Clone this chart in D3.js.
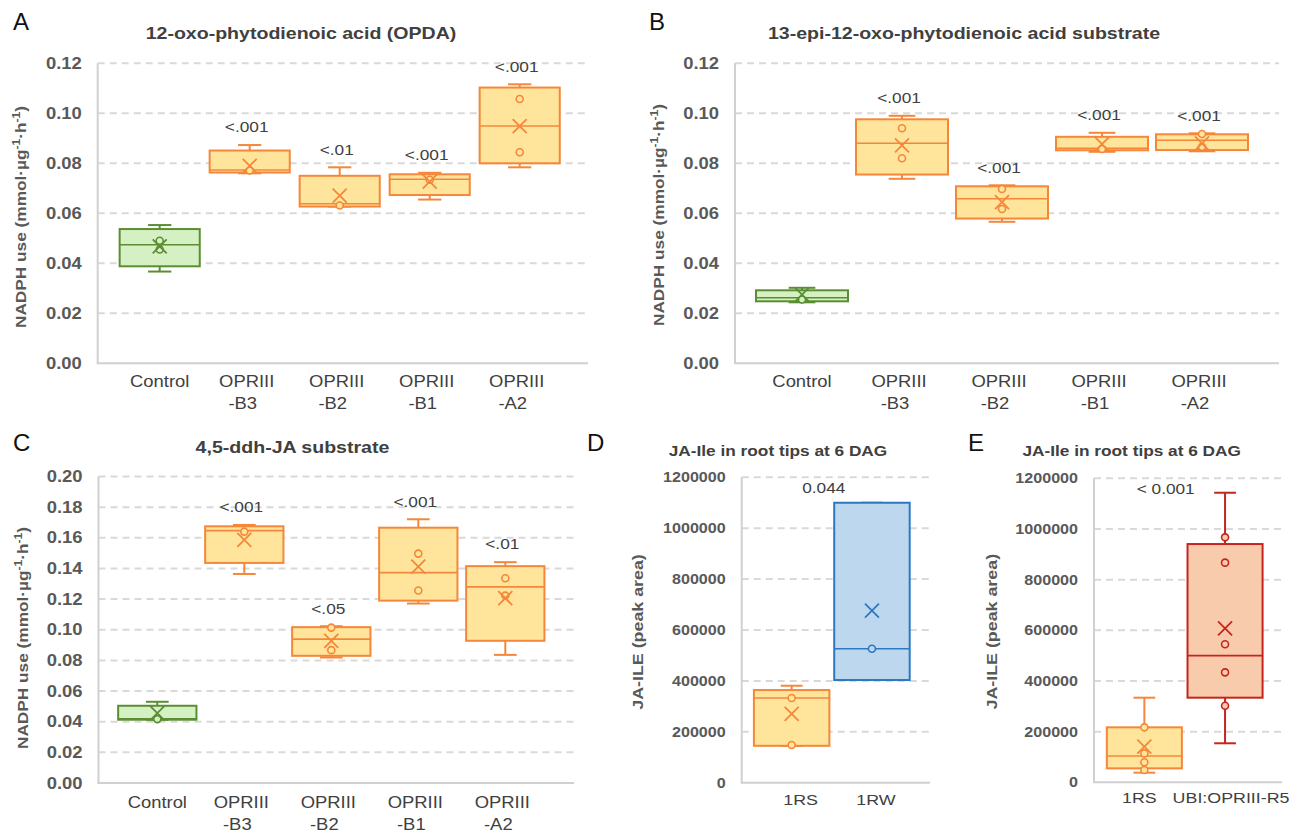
<!DOCTYPE html>
<html>
<head>
<meta charset="utf-8">
<script src="https://cdn.jsdelivr.net/npm/d3@7"></script>
<style>
  body { margin: 0; background: #fff; }
  text { font-family: "Liberation Sans", Arial, sans-serif; }
</style>
</head>
<body>
<svg id="fig" width="1300" height="831"></svg>
<script>
// categories / tick labels
const catsABC = ["Control", "OPRIII-B3", "OPRIII-B2", "OPRIII-B1", "OPRIII-A2"];
const labelsABC = [["Control"], ["OPRIII", "-B3"], ["OPRIII", "-B2"], ["OPRIII", "-B1"], ["OPRIII", "-A2"]];
const colorsABC = ["green", "orange", "orange", "orange", "orange"];

// A: 12-oxo-phytodienoic acid (OPDA)
const aLow  = [0.0367, 0.0760, 0.0627, 0.0655, 0.0784];
const aQ1   = [0.0388, 0.0763, 0.0627, 0.0673, 0.0800];
const aMed  = [0.0474, 0.0773, 0.0638, 0.0736, 0.0949];
const aQ3   = [0.0537, 0.0851, 0.0750, 0.0756, 0.1103];
const aHigh = [0.0553, 0.0873, 0.0784, 0.0762, 0.1116];
const aMean = [0.0468, 0.0790, 0.0671, 0.0727, 0.0949];
const aPts  = [[0.0490, 0.0455], [0.0771], [0.0631], [0.0734], [0.1057, 0.0844]];
const aP    = ["", "<.001", "<.01", "<.001", "<.001"];

// B: 13-epi-12-oxo-phytodienoic acid substrate
const bLow  = [0.0244, 0.0738, 0.0566, 0.0846, 0.0848];
const bQ1   = [0.0248, 0.0755, 0.0579, 0.0852, 0.0853];
const bMed  = [0.0262, 0.0880, 0.0658, 0.0860, 0.0892];
const bQ3   = [0.0292, 0.0976, 0.0708, 0.0906, 0.0916];
const bHigh = [0.0302, 0.0990, 0.0712, 0.0922, 0.0920];
const bMean = [0.0275, 0.0872, 0.0645, 0.0877, 0.0880];
const bPts  = [[0.0255], [0.0940, 0.0820], [0.0697, 0.0617], [0.0857], [0.0917, 0.0866]];
const bP    = ["", "<.001", "<.001", "<.001", "<.001"];

// C: 4,5-ddh-JA substrate
const cLow  = [0.0413, 0.1364, 0.0819, 0.1171, 0.0836];
const cQ1   = [0.0413, 0.1436, 0.0830, 0.1190, 0.0928];
const cMed  = [0.0419, 0.1647, 0.0939, 0.1373, 0.1280];
const cQ3   = [0.0504, 0.1675, 0.1017, 0.1666, 0.1415];
const cHigh = [0.0530, 0.1684, 0.1023, 0.1721, 0.1441];
const cMean = [0.0456, 0.1586, 0.0928, 0.1412, 0.1206];
const cPts  = [[0.0417], [0.1640], [0.1014, 0.0867], [0.1497, 0.1256], [0.1336, 0.1223]];
const cP    = ["", "<.001", "<.05", "<.001", "<.01"];

// D: JA-Ile in root tips, 1RS vs 1RW
const dCats = ["1RS", "1RW"];
const dColors = ["orange", "blue"];
const dLow  = [145000, 403500];
const dQ1   = [145000, 403500];
const dMed  = [333000, 526500];
const dQ3   = [364000, 1100000];
const dHigh = [381000, 1100000];
const dMean = [270000, 676000];
const dPts  = [[333000, 148000], [526500]];

// E: JA-Ile in root tips, 1RS vs UBI:OPRIII-R5
const eCats = ["1RS", "UBI:OPRIII-R5"];
const eColors = ["orange", "red"];
const eLow  = [38000, 154000];
const eQ1   = [55000, 334000];
const eMed  = [104000, 500000];
const eQ3   = [217000, 940500];
const eHigh = [334000, 1143000];
const eMean = [140500, 608000];
const ePts  = [[217000, 114000, 79000, 48500], [967000, 867000, 545000, 434000, 302000]];

const palette = {
  green:  { stroke: "#5B8E33", fill: "#D5F1C3" },
  orange: { stroke: "#F4873A", fill: "#FFE59B" },
  blue:   { stroke: "#2E78C2", fill: "#BDD7EE" },
  red:    { stroke: "#C5251C", fill: "#F8CBAD" }
};

const nadph = ["NADPH use (mmol·µg", ["-1"], "·h", ["-1"], ")"];
const jaile = ["JA-ILE (peak area)"];

const svg = d3.select("#fig");

function drawPanel(p) {
  const g = svg.append("g");
  const y = d3.scaleLinear().domain([0, p.yMax]).range([p.bottom, p.top]);
  const x = d3.scaleBand().domain(p.cats).range(p.band);
  const bw = x.bandwidth() * p.boxFrac;
  const capW = bw * 0.29;
  const ticks = y.ticks(p.nTicks);

  // gridlines
  g.selectAll(".grid").data(ticks.filter(d => d > 0)).join("line")
    .attr("x1", p.left).attr("x2", p.right)
    .attr("y1", d => y(d)).attr("y2", d => y(d))
    .attr("stroke", "#D9D9D9").attr("stroke-width", 2).attr("stroke-dasharray", "7,5");

  // axis lines
  g.append("line").attr("x1", p.left).attr("x2", p.left).attr("y1", y(p.yMax)).attr("y2", y(0))
    .attr("stroke", "#D0D0D0").attr("stroke-width", 2);
  g.append("line").attr("x1", p.left - 1).attr("x2", p.right).attr("y1", y(0)).attr("y2", y(0))
    .attr("stroke", "#D0D0D0").attr("stroke-width", 2);

  // tick labels
  const ax = g.append("g").attr("transform", `translate(${p.left},0)`)
    .call(d3.axisLeft(y).tickValues(ticks).tickSize(0).tickPadding(16).tickFormat(p.fmt));
  ax.select(".domain").remove();
  ax.attr("font-family", null).attr("font-size", null);
  ax.selectAll("text").attr("class", "w").attr("font-size", p.tickSize)
    .attr("font-weight", "bold").attr("fill", "#595959");

  const rows = p.cats.map((c, i) => ({
    cat: c, lines: p.labels[i], col: palette[p.colors[i]], dx: p.catDx ? p.catDx[i] : 0,
    low: p.low[i], q1: p.q1[i], med: p.med[i], q3: p.q3[i], high: p.high[i],
    mean: p.mean[i], pts: p.points[i], pv: p.pv ? p.pv[i] : ""
  }));

  const box = g.selectAll(".box").data(rows).join("g")
    .attr("transform", d => `translate(${x(d.cat) + x.bandwidth() / 2},0)`);

  // whiskers
  box.append("line").attr("y1", d => y(d.q3)).attr("y2", d => y(d.high));
  box.append("line").attr("y1", d => y(d.q1)).attr("y2", d => y(d.low));
  box.append("line").attr("x1", -capW / 2).attr("x2", capW / 2).attr("y1", d => y(d.high)).attr("y2", d => y(d.high));
  box.append("line").attr("x1", -capW / 2).attr("x2", capW / 2).attr("y1", d => y(d.low)).attr("y2", d => y(d.low));
  box.selectAll("line").attr("stroke", d => d.col.stroke).attr("stroke-width", 2);

  box.append("rect")
    .attr("x", -bw / 2).attr("width", bw)
    .attr("y", d => y(d.q3)).attr("height", d => y(d.q1) - y(d.q3))
    .attr("fill", d => d.col.fill).attr("stroke", d => d.col.stroke).attr("stroke-width", 2);

  box.append("line").attr("class", "med")
    .attr("x1", -bw / 2).attr("x2", bw / 2)
    .attr("y1", d => y(d.med)).attr("y2", d => y(d.med))
    .attr("stroke", d => d.col.stroke).attr("stroke-width", 1.6);

  box.selectAll("circle").data(d => d.pts.map(v => ({ v, col: d.col }))).join("circle")
    .attr("cx", 0).attr("cy", e => y(e.v)).attr("r", 3.5)
    .attr("fill", e => e.col.fill).attr("stroke", e => e.col.stroke).attr("stroke-width", 1.6);

  box.append("path")
    .attr("d", d => {
      const cy = y(d.mean), s = 7;
      return `M${-s},${cy - s}L${s},${cy + s}M${-s},${cy + s}L${s},${cy - s}`;
    })
    .attr("fill", "none").attr("stroke", d => d.col.stroke).attr("stroke-width", 1.8);

  // p-values above the whiskers
  box.filter(d => d.pv).append("text").attr("class", "w")
    .attr("x", -3).attr("y", d => y(d.high) - 12.7)
    .attr("text-anchor", "middle").attr("font-size", 15).attr("fill", "#404040")
    .text(d => d.pv);

  // category labels
  box.selectAll("text.cat").data(d => d.lines.map((t, j) => ({ t, j, n: d.lines.length, dx: d.dx }))).join("text")
    .attr("class", "cat w")
    .attr("x", e => e.dx + (e.n > 1 ? (e.j ? -7 : -3) : 0))
    .attr("y", e => p.bottom + p.catDy[e.j])
    .attr("text-anchor", "middle").attr("font-size", p.catSize).attr("fill", "#404040")
    .text(e => e.t);

  if (p.note) {
    g.append("text").attr("class", "w")
      .attr("x", (p.band[0] + p.band[1]) / 2 + p.noteDx).attr("y", p.top + 16)
      .attr("text-anchor", "middle").attr("font-size", 15).attr("fill", "#404040")
      .text(p.note);
  }

  // title
  g.append("text").attr("class", "w")
    .attr("x", p.titleX).attr("y", p.titleY)
    .attr("text-anchor", "middle").attr("font-size", p.titleSize).attr("font-weight", "bold")
    .attr("fill", "#404040").text(p.title);

  // panel letter
  g.append("text").attr("x", p.letterX).attr("y", p.letterY)
    .attr("font-size", 24).attr("fill", "#111").text(p.letter);

  // y-axis title
  const yt = g.append("text").attr("class", "w")
    .attr("transform", `translate(${p.yTitleX},${p.yTitleY}) rotate(-90)`)
    .attr("text-anchor", "middle").attr("dy", "0.35em")
    .attr("font-size", p.yTitleSize).attr("font-weight", "bold").attr("fill", "#595959");
  p.yTitle.forEach((part, i) => {
    const prevSup = i > 0 && Array.isArray(p.yTitle[i - 1]);
    if (Array.isArray(part)) {
      yt.append("tspan").attr("font-size", 10.5).attr("dy", -6).text(part[0]);
    } else {
      yt.append("tspan").attr("dy", prevSup ? 6 : null).text(part);
    }
  });
}

const f2 = d3.format(".2f");
const fInt = d3.format("d");

drawPanel({
  letter: "A", letterX: 13, letterY: 30,
  title: "12-oxo-phytodienoic acid (OPDA)", titleX: 301, titleY: 38.5, titleSize: 17,
  yTitle: nadph, yTitleX: 20.7, yTitleY: 217, yTitleSize: 15,
  left: 97.7, right: 588, top: 63.3, bottom: 363.3, band: [114.7, 564.7], boxFrac: 0.89,
  yMax: 0.12, nTicks: 6, fmt: f2, tickSize: 16, catSize: 16, catDy: [24, 46],
  cats: catsABC, labels: labelsABC, colors: colorsABC,
  low: aLow, q1: aQ1, med: aMed, q3: aQ3, high: aHigh, mean: aMean, points: aPts, pv: aP
});

drawPanel({
  letter: "B", letterX: 649, letterY: 30,
  title: "13-epi-12-oxo-phytodienoic acid substrate", titleX: 964, titleY: 38.5, titleSize: 17,
  yTitle: nadph, yTitleX: 659, yTitleY: 215, yTitleSize: 15,
  left: 735, right: 1279, top: 63.3, bottom: 363.3, band: [752, 1252], boxFrac: 0.92,
  yMax: 0.12, nTicks: 6, fmt: f2, tickSize: 16, catSize: 16, catDy: [24, 46],
  cats: catsABC, labels: labelsABC, colors: colorsABC,
  low: bLow, q1: bQ1, med: bMed, q3: bQ3, high: bHigh, mean: bMean, points: bPts, pv: bP
});

drawPanel({
  letter: "C", letterX: 13, letterY: 451,
  title: "4,5-ddh-JA substrate", titleX: 292.5, titleY: 453, titleSize: 17,
  yTitle: nadph, yTitleX: 22.7, yTitleY: 638, yTitleSize: 15,
  left: 98.5, right: 574, top: 476.5, bottom: 783, band: [113.8, 548.8], boxFrac: 0.9,
  yMax: 0.2, nTicks: 10, fmt: f2, tickSize: 16, catSize: 16, catDy: [24.5, 46.5],
  cats: catsABC, labels: labelsABC, colors: colorsABC,
  low: cLow, q1: cQ1, med: cMed, q3: cQ3, high: cHigh, mean: cMean, points: cPts, pv: cP
});

drawPanel({
  letter: "D", letterX: 587, letterY: 451,
  title: "JA-Ile in root tips at 6 DAG", titleX: 778, titleY: 455.5, titleSize: 15,
  yTitle: jaile, yTitleX: 638, yTitleY: 632, yTitleSize: 15.5,
  left: 741.7, right: 930, top: 477.3, bottom: 782.7, band: [751.5, 912.1], boxFrac: 0.94,
  yMax: 1200000, nTicks: 6, fmt: fInt, tickSize: 14, catSize: 15.5, catDy: [22.3], catDx: [9, 4],
  cats: dCats, labels: dCats.map(c => [c]), colors: dColors,
  low: dLow, q1: dQ1, med: dMed, q3: dQ3, high: dHigh, mean: dMean, points: dPts,
  note: "0.044", noteDx: -8
});

drawPanel({
  letter: "E", letterX: 968, letterY: 451,
  title: "JA-Ile in root tips at 6 DAG", titleX: 1131.7, titleY: 456, titleSize: 15,
  yTitle: jaile, yTitleX: 991.7, yTitleY: 631.7, yTitleSize: 15.5,
  left: 1094, right: 1282, top: 478.3, bottom: 782.3, band: [1104, 1265.4], boxFrac: 0.93,
  yMax: 1200000, nTicks: 6, fmt: fInt, tickSize: 14, catSize: 15.5, catDy: [21], catDx: [-5, 6],
  cats: eCats, labels: eCats.map(c => [c]), colors: eColors,
  low: eLow, q1: eQ1, med: eMed, q3: eQ3, high: eHigh, mean: eMean, points: ePts,
  note: "< 0.001", noteDx: -19
});

// the original lettering is set a little wider than the font
svg.selectAll("text.w").each(function () {
  const len = this.getComputedTextLength();
  this.setAttribute("textLength", len * 1.15);
  this.setAttribute("lengthAdjust", "spacingAndGlyphs");
});
</script>
</body>
</html>
